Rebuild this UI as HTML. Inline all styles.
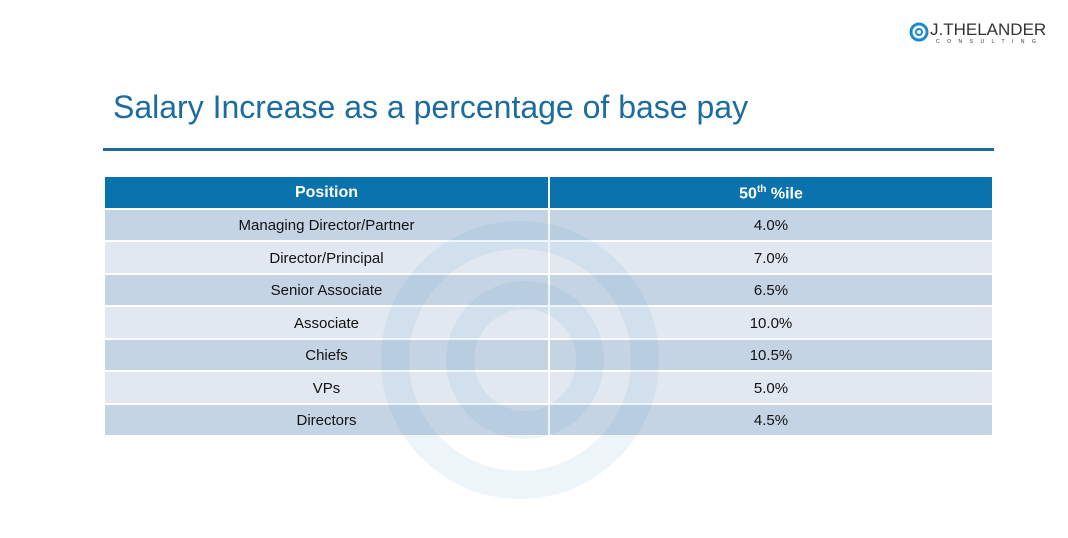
<!DOCTYPE html>
<html><head><style>
body{margin:0;width:1068px;height:538px;background:#fff;position:relative;overflow:hidden;font-family:"Liberation Sans",sans-serif}
.t{position:absolute;left:113px;top:89px;font-size:32px;color:#1a6d9e;white-space:nowrap}
.ln{position:absolute;left:103px;top:148px;width:891px;height:3px;background:#1a6d9e}
table{position:absolute;left:105px;top:177px;width:887px;border-collapse:collapse;font-size:15px;color:#111}
td,th{height:30.5px;text-align:center;padding:0;border-bottom:2px solid #fff}
td{padding-top:2px;height:28.5px}
th{background:#0a72ad;color:#fff;font-weight:bold;font-size:16px;padding-top:2px;height:28.5px}
td:first-child,th:first-child{width:443px;border-right:2px solid #fff}
tr.d td{background:#c5d4e4}tr.l td{background:#e1e8f1}
.logo{position:absolute;left:930px;top:20px;font-size:17px;color:#333}
.logo small{position:absolute;left:6px;top:19px;font-size:5px;letter-spacing:7.5px;color:#333}
svg.w{position:absolute;left:0;top:0}
</style></head><body>
<div class="logo">J.THELANDER<small>CONSULTING</small></div>
<svg width="22" height="22" style="position:absolute;left:908px;top:21px"><circle cx="11" cy="11" r="8" fill="none" stroke="#1a8ad0" stroke-width="3"/><circle cx="11" cy="11" r="3" fill="none" stroke="#1a8ad0" stroke-width="2"/></svg>
<div class="t">Salary Increase as a percentage of base pay</div>
<div class="ln"></div>
<table>
<tr><th>Position</th><th>50<sup style="font-size:10px">th</sup> %ile</th></tr>
<tr class="d"><td>Managing Director/Partner</td><td>4.0%</td></tr>
<tr class="l"><td>Director/Principal</td><td>7.0%</td></tr>
<tr class="d"><td>Senior Associate</td><td>6.5%</td></tr>
<tr class="l"><td>Associate</td><td>10.0%</td></tr>
<tr class="d"><td>Chiefs</td><td>10.5%</td></tr>
<tr class="l"><td>VPs</td><td>5.0%</td></tr>
<tr class="d"><td>Directors</td><td>4.5%</td></tr>
</table>
<svg class="w" width="1068" height="538"><g fill="none" stroke="#2a7ab8" stroke-opacity="0.08" stroke-width="28"><circle cx="520" cy="360" r="125"/><circle cx="525" cy="360" r="65"/></g></svg>
</body></html>
